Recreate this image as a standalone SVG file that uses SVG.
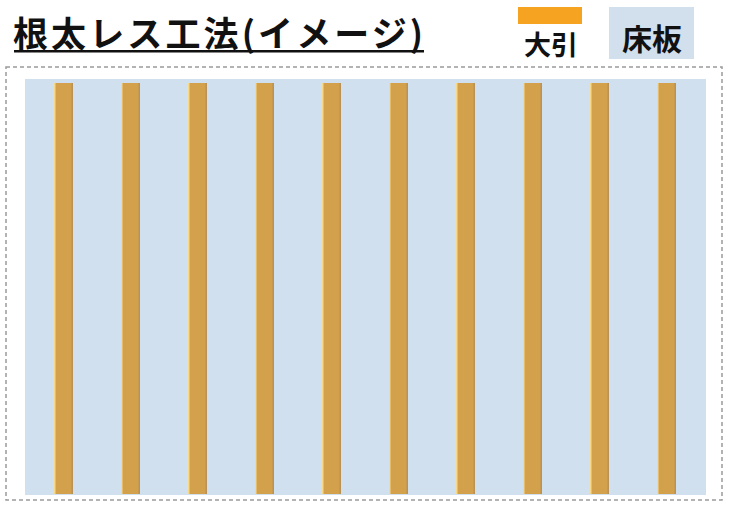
<svg xmlns="http://www.w3.org/2000/svg" width="729" height="508" viewBox="0 0 729 508">
<style>
.t{font-family:"Noto Sans CJK JP","Noto Sans",sans-serif;font-weight:bold;fill:#111}
.bar{fill:#D3A04B}
.hl{fill:#F7D98C}
.sh{fill:#B99259}
</style>
<defs>
<g id="beam">
<rect class="bar" x="0" y="0" width="19" height="411"/>
<rect class="hl" x="0" y="0" width="1.5" height="411"/>
<rect class="sh" x="17.5" y="0" width="1.5" height="411"/>
</g>
</defs>
<rect width="729" height="508" fill="#ffffff"/>
<g id="title">
<text class="t" x="13" y="47" font-size="35" textLength="410" lengthAdjust="spacing">根太レス工法(イメージ)</text>
<rect x="14" y="50" width="410" height="2.5" fill="#111"/>
</g>
<g id="legend-ohbiki">
<rect x="518" y="7" width="64" height="17" fill="#F5A320"/>
<text class="t" x="551" y="55" font-size="27" text-anchor="middle">大引</text>
</g>
<g id="legend-yukaita">
<rect x="609" y="7" width="85" height="52" fill="#D2E0EE"/>
<text class="t" x="652" y="50" font-size="30" text-anchor="middle">床板</text>
</g>
<g id="frame">
<rect x="6" y="67" width="716" height="433" fill="none" stroke="#9a9a9a" stroke-width="1.5" stroke-dasharray="4 3"/>
</g>
<g id="floor">
<rect x="25" y="79" width="681" height="416" fill="#D0E0EF"/>
</g>
<g id="beams">
<use href="#beam" x="54" y="83"/>
<use href="#beam" x="121" y="83"/>
<use href="#beam" x="188" y="83"/>
<use href="#beam" x="255" y="83"/>
<use href="#beam" x="322" y="83"/>
<use href="#beam" x="389" y="83"/>
<use href="#beam" x="456" y="83"/>
<use href="#beam" x="523" y="83"/>
<use href="#beam" x="590" y="83"/>
<use href="#beam" x="657" y="83"/>
</g>
</svg>
